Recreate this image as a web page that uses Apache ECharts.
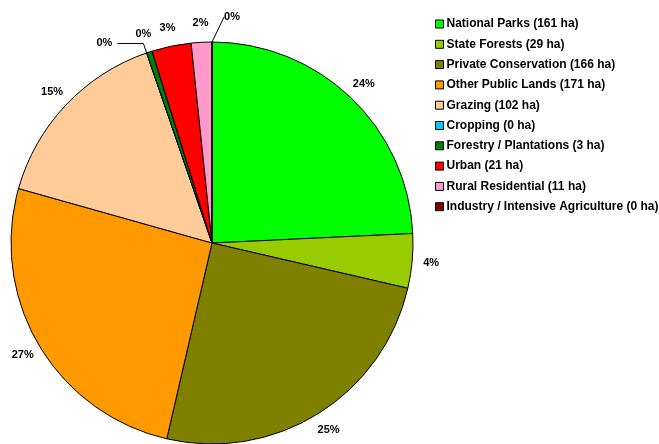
<!DOCTYPE html>
<html>
<head>
<meta charset="utf-8">
<script src="https://cdn.jsdelivr.net/npm/echarts@6/dist/echarts.min.js"></script>
<style>
html,body{margin:0;padding:0;background:#fff;}
#c{width:659px;height:444px;}
</style>
</head>
<body>
<div id="c"></div>
<script>
const categories = ['National Parks','State Forests','Private Conservation','Other Public Lands','Grazing','Cropping','Forestry / Plantations','Urban','Rural Residential','Industry / Intensive Agriculture'];
const areas = [161,29,166,171,102,0,3,21,11,0];
const pctLabels = [24,4,25,27,15,0,0,3,2,0];
const colors = ['#00FF00','#99CC00','#808000','#FF9900','#FFCC99','#00CCFF','#008000','#FF0000','#FF99CC','#800000'];

const FONT = '"Liberation Sans", Arial, sans-serif';
const data = categories.map((name, i) => {
  const item = { name: name, value: areas[i], itemStyle: { color: colors[i] } };
  if (i === 5) {
    item.labelLine = { show: true, length: 10, length2: 26, lineStyle: { color: '#000', width: 1, opacity: 1 } };
  }
  if (i === 9) {
    item.labelLine = { show: true, lineStyle: { color: '#000', width: 1, opacity: 1 } };
  }
  return item;
});

const chart = echarts.init(document.getElementById('c'), null, { renderer: 'canvas' });
chart.setOption({
  animation: false,
  backgroundColor: '#ffffff',
  legend: {
    orient: 'vertical',
    left: 435,
    top: 18,
    padding: 0,
    itemWidth: 8,
    itemHeight: 8,
    itemGap: 8.3,
    icon: 'rect',
    data: categories,
    formatter: function (name) {
      const i = categories.indexOf(name);
      return name + ' (' + areas[i] + ' ha)';
    },
    itemStyle: { borderColor: '#000', borderWidth: 1 },
    textStyle: { fontFamily: FONT, fontWeight: 'bold', fontSize: 12, color: '#000', lineHeight: 12, padding: [0, 0, 0, -2] }
  },
  series: [{
    type: 'pie',
    center: [212, 243],
    radius: 201,
    startAngle: 90,
    clockwise: true,
    avoidLabelOverlap: false,
    data: data,
    itemStyle: { borderColor: '#000', borderWidth: 1 },
    emphasis: { disabled: true },
    label: {
      show: true,
      position: 'outside',
      fontFamily: FONT,
      fontWeight: 'bold',
      fontSize: 11,
      color: '#000',
      formatter: function (p) { return pctLabels[p.dataIndex] + '%'; }
    },
    labelLine: { show: true, length: 19, length2: 0, lineStyle: { opacity: 0 } },
    labelLayout: function (p) {
      const pts = p.labelLinePoints;
      if (!pts) return {};
      if (p.dataIndex === 5) return {};
      if (p.dataIndex === 9) {
        return { x: pts[0][0] + 20, y: pts[0][1] - 25, align: 'center', verticalAlign: 'middle' };
      }
      const e = pts[pts.length - 1];
      return { x: e[0], y: e[1], align: 'center', verticalAlign: 'middle' };
    }
  }]
});
</script>
</body>
</html>
